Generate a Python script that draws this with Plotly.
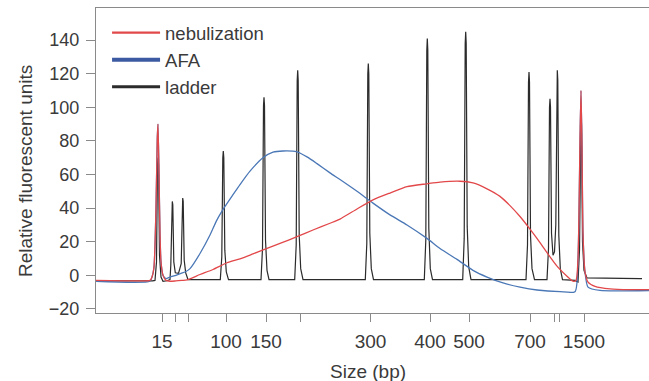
import plotly.graph_objects as go

# ---------------- data (x = migration time in s, y = fluorescence units) -------------
ladder_tick_time = [32.4, 35.1, 37.6, 45.2, 53.2, 60.0, 74.1, 86.0, 93.8, 106.0, 110.8, 111.8, 116.8]
ladder_tick_text = ["15", "", "", "100", "150", "", "300", "400", "500", "700", "", "", "1500"]

y_tick_vals = [-20, 0, 20, 40, 60, 80, 100, 120, 140]

ladder_time = [19.2, 28.0, 30.5, 31.0, 31.3, 31.5, 31.6, 31.7, 31.9, 32.2, 32.6, 33.4,
               34.0, 34.16, 34.36, 34.46, 34.56, 34.76, 35.06,
               35.7, 36.24, 36.44, 36.54, 36.64, 36.84, 37.14, 37.6,
               44.06, 44.36, 44.56, 44.66, 44.76, 44.96, 45.26, 45.7,
               52.2, 52.5, 52.7, 52.8, 52.9, 53.1, 53.4, 53.8,
               58.94, 59.24, 59.44, 59.54, 59.64, 59.84, 60.14, 60.6,
               73.06, 73.36, 73.56, 73.66, 73.76, 73.96, 74.26, 74.7,
               84.86, 85.16, 85.36, 85.46, 85.56, 85.76, 86.06, 86.5,
               92.54, 92.84, 93.04, 93.14, 93.24, 93.44, 93.74, 94.2,
               105.2, 105.5, 105.7, 105.8, 105.9, 106.1, 106.4, 106.9,
               109.4, 109.7, 109.9, 110.0, 110.1, 110.3, 110.6,
               110.9, 111.16, 111.36, 111.46, 111.56, 111.76, 112.06, 112.5,
               115.0, 115.6, 115.9, 116.1, 116.2, 116.3, 116.5, 116.8, 117.4, 128.0, 128.4]
ladder_fu = [-3.2, -3.5, -3.3, -3.0, 8, 66, 70, 66, 12, -1, -3.5, -3.2,
             -2.5, 6, 42, 44, 42, 8, 1.5,
             1.2, 7, 44, 46, 44, 9, 1.5, -2.5,
             -2.5, 11, 70, 74, 70, 15, 2, -2.5,
             -2.5, 16, 101, 106, 101, 21, 3, -2.5,
             -2.5, 18, 116, 122, 116, 24, 4, -2.5,
             -2.5, 19, 120, 126, 120, 25, 4, -2.5,
             -2.5, 21, 134, 141, 134, 28, 4, -2.5,
             -2.5, 22, 138, 145, 138, 29, 5, -2.5,
             -2.5, 18, 115, 121, 115, 24, 4, -2.5,
             -2.5, 16, 100, 105, 100, 25, 12,
             14, 30, 116, 122, 116, 24, 4, -2.5,
             -3, -4, 15, 90, 95, 90, 20, 3, -1.5, -2, -2]

afa_time = [19.2, 30.0, 30.4, 30.8, 31.2, 31.46, 31.6, 31.8, 32.0, 32.2, 32.6, 33.2,
            34.0, 35.2, 36.2, 37.0, 38.0,
            40.0, 42.0, 43.4, 45.0, 46.6, 48.0, 50.0, 52.6, 54.6, 56.6, 59.4, 61.4, 63.4,
            66.0, 68.0, 71.4, 74.6, 78.0, 81.4, 85.4, 88.0, 91.4, 94.6, 97.4, 100.6, 104.0,
            107.4, 112.0, 115.0, 115.6, 116.0, 116.2, 116.4, 116.6, 117.0, 117.6, 120.0, 129.8]
afa_fu = [-3.5, -3.5, -1, 5, 40, 82, 90, 60, 25, 8, 0, -2,
          -1, 0, 1.2, 2, 4,
          13, 24, 33, 41, 48, 54, 62, 70, 73.3, 74, 73.5, 70.5, 66.5,
          61, 57, 50, 43, 36, 30, 22, 16, 9.5, 3, -1, -4.5, -7,
          -8.7, -9.7, -9.7, 10, 80, 110, 75, 25, 2, -7, -9, -9]

neb_time = [19.2, 28.0, 30.0, 30.4, 30.8, 31.2, 31.46, 31.6, 31.8, 32.0, 32.2, 32.6, 33.2,
            34.0, 35.2, 36.4, 37.4, 40.0, 42.6, 45.4, 48.0, 50.6, 53.4, 56.0, 59.4, 62.6,
            66.0, 68.0, 71.4, 74.6, 78.0, 81.4, 85.4, 88.0, 92.0, 94.6, 97.4, 100.0, 102.0,
            104.0, 106.0, 108.0, 109.4, 111.4, 113.4, 114.6, 115.2, 115.6, 116.0, 116.2,
            116.4, 116.6, 117.0, 117.6, 119.0, 122.0, 126.0, 129.8]
neb_fu = [-3, -3.3, -3, -1, 5, 40, 82, 90, 60, 25, 8, 0, -3,
          -3.5, -3.3, -3, -2.7, 0.5, 3.5, 7.5, 9.8, 12.8, 16.1, 19, 23, 27,
          31, 33.5, 39.5, 44.9, 49, 52.8, 54.5, 55.5, 56, 55, 51.5, 47, 41.5,
          35, 27.5, 19.5, 13.5, 5.5, -0.5, -3.5, -3, 10, 80, 110,
          75, 25, 2, -4, -6.5, -8, -8.5, -8.5]

series_names = ["nebulization", "AFA", "ladder"]

# ---------------- styling --------------------------------------------------------------
RED = "#e2484a"
BLUE = "#4a77b6"
BLACK = "#2b2b2b"
AXIS = "#8a8a8a"
TEXT = "#3a3a3a"
FONT = "Liberation Sans, Arial, sans-serif"
FS = 19

fig = go.Figure()
fig.add_trace(go.Scatter(x=ladder_time, y=ladder_fu, mode="lines",
                         line=dict(color=BLACK, width=1.2), showlegend=False, hoverinfo="skip"))
fig.add_trace(go.Scatter(x=afa_time, y=afa_fu, mode="lines",
                         line=dict(color=BLUE, width=1.3, shape="spline", smoothing=0.6),
                         showlegend=False, hoverinfo="skip"))
fig.add_trace(go.Scatter(x=neb_time, y=neb_fu, mode="lines",
                         line=dict(color=RED, width=1.3, shape="spline", smoothing=0.6),
                         showlegend=False, hoverinfo="skip"))

# legend entries
for name, col, w in zip(series_names, [RED, "#3c5aa2", BLACK], [2.2, 4, 3]):
    fig.add_trace(go.Scatter(x=[None], y=[None], mode="lines", name=name,
                             line=dict(color=col, width=w)))

fig.update_layout(
    width=649, height=381,
    margin=dict(l=96, r=0, t=8, b=68, pad=0),
    paper_bgcolor="white", plot_bgcolor="white",
    font=dict(family=FONT, size=FS, color=TEXT),
    legend=dict(x=0.02, y=0.98, xanchor="left", yanchor="top",
                bgcolor="rgba(0,0,0,0)", font=dict(size=18.5, color=TEXT),
                itemwidth=48, tracegroupgap=0),
    xaxis=dict(range=[19.2, 129.8], showgrid=False, zeroline=False,
               showline=True, linecolor=AXIS, linewidth=1.2, mirror=True,
               ticks="outside", ticklen=8, tickcolor=AXIS, tickwidth=1.2,
               tickvals=ladder_tick_time, ticktext=ladder_tick_text,
               ticklabelstandoff=3, tickfont=dict(size=FS, color=TEXT)),
    yaxis=dict(range=[-22.4, 159.1], showgrid=False, zeroline=False,
               showline=True, linecolor=AXIS, linewidth=1.2,
               ticks="outside", ticklen=9, tickcolor=AXIS, tickwidth=1.2,
               tickvals=y_tick_vals, ticklabelstandoff=3,
               tickfont=dict(size=18, color=TEXT)),
    annotations=[
        dict(text="Relative fluorescent units", textangle=-90, x=-0.1266, y=0.4656,
             xref="paper", yref="paper", xanchor="center", yanchor="middle",
             showarrow=False, font=dict(size=FS, color=TEXT)),
        dict(text="Size (bp)", x=0.491, y=-0.193, xref="paper", yref="paper",
             xanchor="center", yanchor="middle", showarrow=False,
             font=dict(size=FS, color=TEXT)),
    ],
)

fig.write_html("out.html")
